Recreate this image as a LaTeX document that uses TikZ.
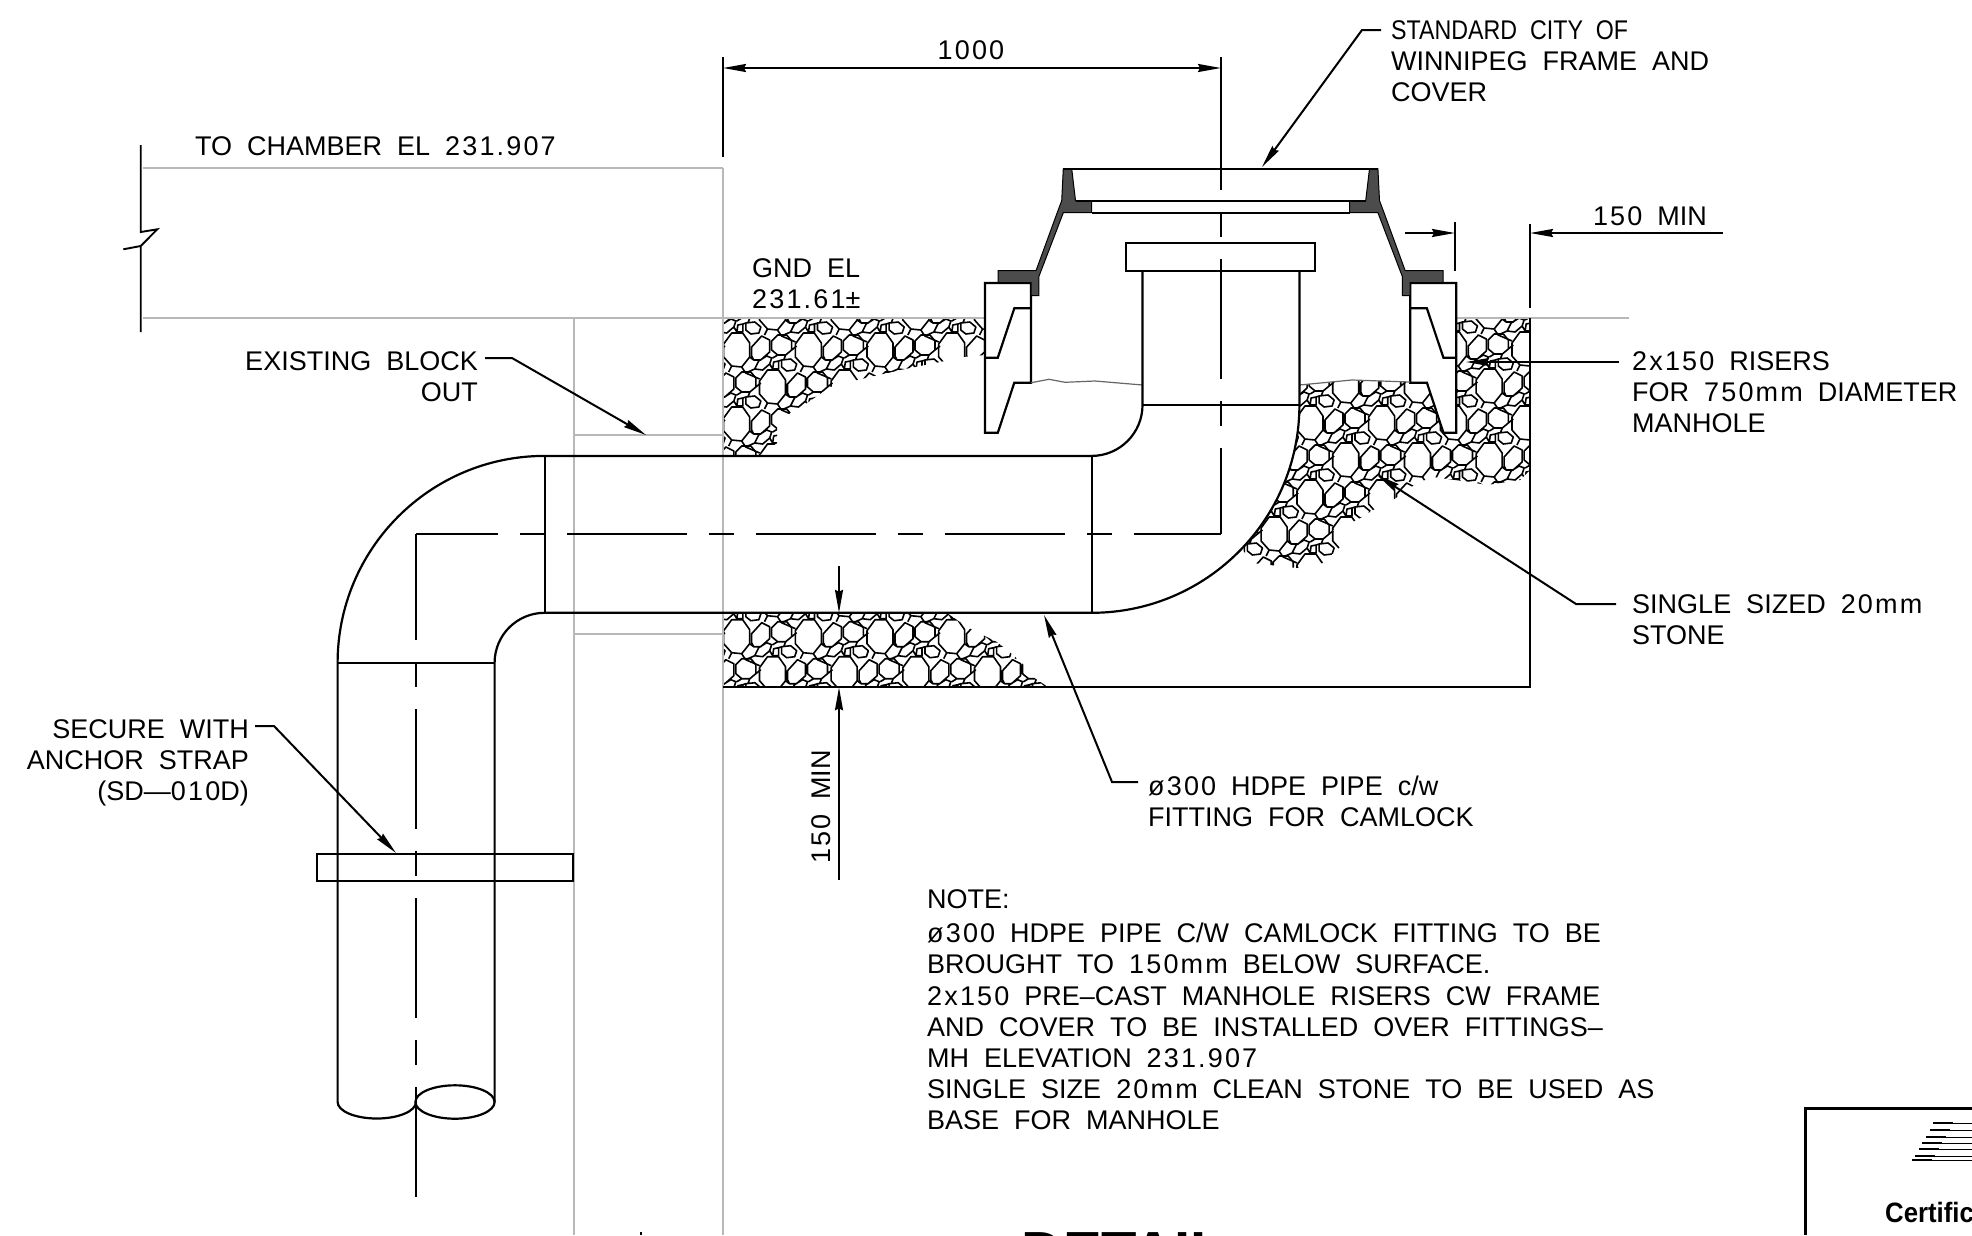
\documentclass[tikz,border=0pt]{standalone}
\usepackage{fontspec}
\setmainfont{Liberation Sans}[WordSpace=2]
\usetikzlibrary{arrows.meta}
\definecolor{blockgray}{gray}{0.72}
\newcommand{\dg}[1]{{\addfontfeatures{LetterSpace=8}#1}}
\tikzset{
  cadtext/.style={font=\fontsize{27}{31.2}\selectfont,inner sep=0pt,align=left},
  cadright/.style={font=\fontsize{27}{31.2}\selectfont,inner sep=0pt,align=right},
  pipeline/.style={line width=2.2pt},
  thinline/.style={line width=1.9pt},
  blockline/.style={line width=2pt,color=blockgray},
  centerline/.style={line width=2pt,dash pattern=on 120pt off 22pt on 25pt off 22pt},
  leader/.style={line width=2pt,-{Stealth[length=23pt,width=8pt,inset=2pt]}},
  pics/stonecell/.style={code={
    \draw[line width=1.6pt,line join=round]
      (-5,-17)--(6,-17)--(13,-7)--(13,7)--(5,17)--(-5,16)--(-13,7)--(-13,-6)--cycle %big stone
      (41,-15)--(50,-15)--(55,-9)--(55,0)--(49,5)--(41,5)--(35,0)--(35,-9)--cycle
      (15,6)--(15,-3)--(25,-14)--(33,-10)--(33,2)--(24,10)--(17,10)--cycle
      (18,19)--(22,11)--(30,6)--(35,8)--(33,14)--(26,20)--cycle
      (36,19)--(37,12)--(42,11)--(42,19)--cycle
      (45,10)--(54,9)--(60,14)--(58,20)--(50,21)--(45,17)--cycle
      (5,17)--(9,23)--(18,19) (9,23)--(23,29) (33,14)--(36,19) (42,11)--(45,10)
      (55,0)--(60,-4) (49,5)--(47,10) (41,5)--(36,8) (13,7)--(17,10) (-5,16)--(-8,22);
  }}
}
\newcommand{\gravel}[4]{%
  \foreach \r in {0,...,#4}
    \foreach \c in {0,...,#3}
      \pic at ({#1+\c*71.67+mod(\r,2)*35.83},{#2+\r*37}) {stonecell};
}

\begin{document}
\begin{tikzpicture}[x=1pt,y=-1pt]
  \path[use as bounding box,clip] (0,0) rectangle (1972,1235);
  \fill[white] (0,0) rectangle (1972,1235);

  % stone beds
  \begin{scope}
    \clip (985,318)--(985,355)--(963,357)--(940,362)--(900,370)--(857,380)--(830,387)--(807,403)--(790,413)--(777,427)--(777,443)--(760,455)--(723,455)--(723,318)--cycle;
    \gravel{665}{276}{5}{5}
  \end{scope}
  \begin{scope}
    \clip (723,613)--(947,613)--(967,627)--(997,642)--(1013,655)--(1022,663)--(1033,677)--(1048,687)--(723,687)--cycle;
    \gravel{665}{562.7}{6}{4}
  \end{scope}
  \begin{scope}
    \clip (1299.4,385)--(1352,380)--(1410,382)--(1456,318)--(1530,318)--(1530,470)--(1520,480)--(1487,485)--(1470,482)--(1433,477)--(1417,483)--(1393,500)--(1373,510)--(1357,520)--(1333,530)--(1340,547)--(1323,563)--(1297,568)--(1270,565)--(1252,563)--(1241.9,548.5) arc (43.6:0:207.8)--cycle;
    \gravel{1166.6}{275}{6}{8}
  \end{scope}

  % gray reference lines
  \draw[blockline] (143,168)--(723,168); %top of chamber
  \draw[blockline] (143,318)--(985,318);
  \draw[blockline] (1456,318)--(1629,318);
  \draw[blockline] (723,168)--(723,1235);
  \draw[blockline] (573.5,318)--(573.5,1235);
  \draw[blockline] (573.5,435)--(723,435);
  \draw[blockline] (573.5,634)--(723,634);

  % frame and risers, drawn once per side
  \foreach \flip/\off in {1/0,-1/2441.2}{
    \begin{scope}[xshift=\off pt,xscale=\flip]
      \draw[pipeline,fill=white] (985,283)--(1031,283)--(1031,382.7)--(1014.3,382.7)--(997.8,432.7)--(985,432.7)--cycle;
      \draw[pipeline] (1031,308.3)--(1014.3,308.3)--(997.8,357.7)--(985,357.7);
      \draw[line width=1pt,fill=black!70] (1063.3,168.7)--(1071.7,168.7)--(1075.5,200.7)--(1091.6,200.7)--(1091.6,212.7)--(1063.3,212.7)--(1038.8,276.7)--(1038.8,295.7)--(1031,295.7)--(1031,282.7)--(998.2,282.7)--(998.2,270.7)--(1036,270.7)--(1057.2,212.7)--(1061.7,200.7)--cycle;
    \end{scope}
  }
  \draw[pipeline] (1063.3,168.7)--(1377.9,168.7);
  \draw[pipeline] (1075.5,200.7)--(1365.7,200.7);
  \draw[pipeline] (1091.6,212.7)--(1349.6,212.7);
  \draw[line width=1.2pt,black!60] (1031,382.7)--(1049,379.3)--(1065,382.3)--(1095,381)--(1142.5,385);
  \draw[line width=1.2pt,black!60] (1299.4,385)--(1352,380)--(1410,382);

  % fitting and pipe
  \draw[pipeline] (1126,243.3) rectangle (1314.7,270.7);
  \draw[pipeline] (1142.5,270.7)--(1142.5,405) arc (0:90:50.9)--(544.6,455.9) arc (270:180:207)--(337.6,1102) arc (180:0:39.2 and 16.5);
  \draw[pipeline] (1299.4,270.7)--(1299.4,405) arc (0:90:207.8)--(544.6,612.8) arc (270:180:50)--(494.6,1102);
  \draw[pipeline] (1142.5,405)--(1299.4,405);
  \draw[pipeline] (1091.6,455.9)--(1091.6,612.8);
  \draw[pipeline] (544.6,455.9)--(544.6,612.8);
  \draw[pipeline] (337.6,663)--(494.6,663);
  \draw[pipeline] (455,1102) ellipse (39.6 and 16.7);
  \draw[pipeline] (317.3,854) rectangle (573.3,880.7); %anchor strap
  \draw[pipeline] (1530,318)--(1530,687.3)--(723,687.3);

  % center lines
  \draw[centerline,dash phase=38pt] (416,534)--(1221,534);
  \draw[centerline,dash phase=34pt] (1221,534)--(1221,68);
  \draw[centerline,dash phase=14pt] (416,534)--(416,1197);

  % break line and extension lines
  \draw[thinline] (140.7,145)--(140.7,232)--(157.3,229.3)--(140.7,246)--(123.3,249.3)--(140.7,246)--(140.7,332);
  \draw[thinline] (723,57)--(723,157);
  \draw[thinline] (1221,57)--(1221,78);
  \draw[thinline] (1455,222)--(1455,271);
  \draw[thinline] (1530,224)--(1530,308);

  % texts
  \node[cadtext,anchor=north west] (framelabel) at (1391,20) {\scalebox{0.86}[1]{STANDARD CITY OF}\\WINNIPEG FRAME AND\\COVER};
  \node[cadtext,anchor=north west] (chamberlabel) at (195,136) {TO CHAMBER EL \dg{231.907}};
  \node[cadtext,anchor=north west] (gndlabel) at (752,258) {GND EL\\\dg{231.61}±};
  \node[cadright,anchor=north east] (blocklabel) at (478,351) {EXISTING BLOCK\\OUT};
  \node[cadtext,anchor=north west] (riserlabel) at (1632,351) {\dg{2x150} RISERS\\FOR \dg{750mm} DIAMETER\\MANHOLE};
  \node[cadtext,anchor=north west] (stonelabel) at (1632,594) {SINGLE SIZED \dg{20mm}\\STONE};
  \node[cadright,anchor=north east] (straplabel) at (249,719) {SECURE WITH\\ANCHOR STRAP\\(SD—\dg{010}D)};
  \node[cadtext,anchor=north west] (pipelabel) at (1148,776) {\dg{ø300} HDPE PIPE c/w\\FITTING FOR CAMLOCK};
  \node[cadtext,anchor=north west] (notehead) at (927,889) {NOTE:};
  \node[cadtext,anchor=north west] (notebody) at (927,923) {\dg{ø300} HDPE PIPE C/W CAMLOCK FITTING TO BE\\BROUGHT TO \dg{150mm} BELOW SURFACE.\\\dg{2x150} PRE–CAST MANHOLE RISERS CW FRAME\\AND COVER TO BE INSTALLED OVER FITTINGS–\\MH ELEVATION \dg{231.907}\\SINGLE SIZE \dg{20mm} CLEAN STONE TO BE USED AS\\BASE FOR MANHOLE};
  \node[cadtext] (widthlabel) at (971,50) {\dg{1000}};
  \node[cadtext] (minlabel) at (1650,216) {\dg{150} MIN};
  \node[cadtext,rotate=90] (pipemin) at (821,807) {\dg{150} MIN};
  \node[inner sep=0pt,anchor=north west,font=\fontsize{58}{58}\selectfont\bfseries] (detailtitle) at (1021,1232) {DETAIL};

  % dimensions
  \coordinate (leftext) at (723,68);
  \coordinate (rightext) at (1221,68);
  \draw[leader,{Stealth[length=23pt,width=8pt,inset=2pt]}-{Stealth[length=23pt,width=8pt,inset=2pt]}] (leftext)--(rightext);
  \coordinate (coverstart) at (1405,233);
  \coordinate (coverend) at (1455,233);
  \draw[leader] (coverstart)--(coverend);
  \coordinate (minstart) at (1723,233);
  \coordinate (minend) at (1530,233);
  \draw[leader] (minstart)--(minend);
  \coordinate (uppertail) at (839,566);
  \coordinate (uppertip) at (839,612.8);
  \draw[leader] (uppertail)--(uppertip);
  \coordinate (lowertail) at (839,880);
  \coordinate (lowertip) at (839,687.3);
  \draw[leader] (lowertail)--(lowertip);

  % leaders
  \coordinate (frametip) at (1262,167);
  \draw[leader] (1381,30)--(1362,30)--(frametip);
  \coordinate (blocktip) at (646,435);
  \draw[leader] (485,358)--(512,358)--(blocktip);
  \coordinate (risertip) at (1466,362);
  \draw[leader] (1619,362)--(risertip);
  \coordinate (stonetip) at (1377,475);
  \draw[leader] (1616,604)--(1576,604)--(stonetip);
  \coordinate (straptip) at (396,853);
  \draw[leader] (255,726)--(274,726)--(straptip);
  \coordinate (pipetip) at (1044,615);
  \draw[leader] (1138,782)--(1112,782)--(pipetip);

  % corner of the title block
  \draw[line width=3pt] (1972,1108)--(1805,1108)--(1805,1235);
  \foreach \xs/\ys in {1933/1123,1930/1130,1926/1137,1922/1143,1919/1149,1915/1156,1912/1160}{
    \draw[line width=2.4pt] (\xs,\ys)--++(20,0);
    \draw[line width=1pt] (\xs,\ys)--(1972,\ys);
  }
  \node[inner sep=0pt,anchor=north west,font=\fontsize{28}{28}\selectfont\bfseries,xscale=0.92] (certlabel) at (1885,1202) {Certific};
  \draw[line width=2pt] (640.7,1232)--(640.7,1235); %tip running off the sheet
\end{tikzpicture}
\end{document}
